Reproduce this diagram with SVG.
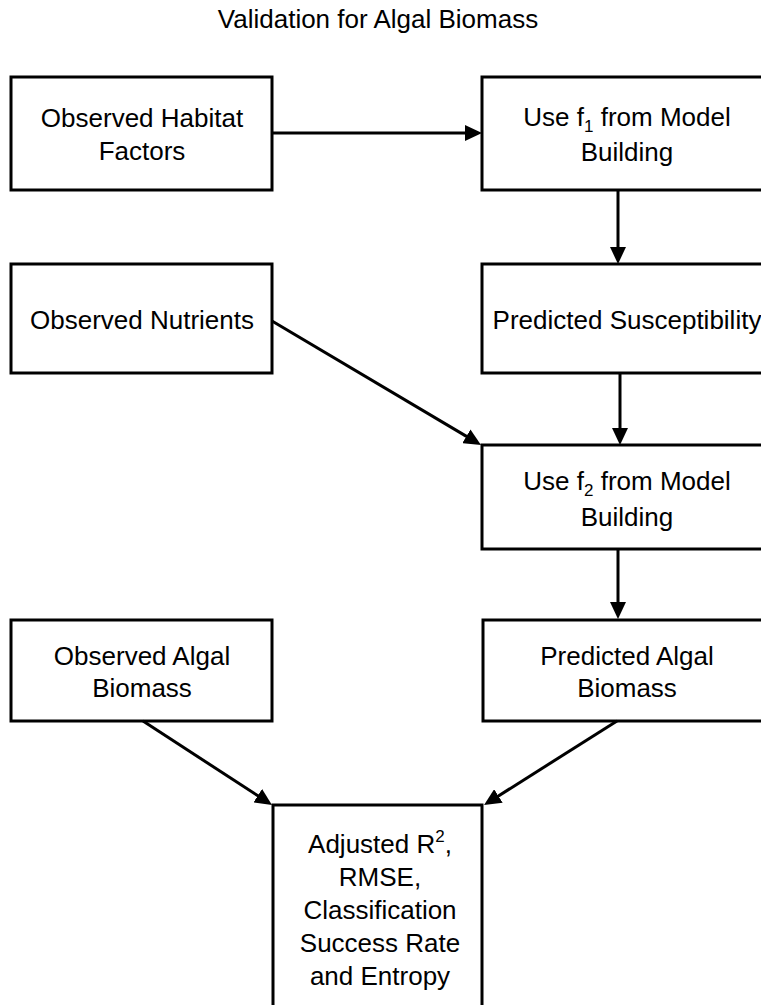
<svg xmlns="http://www.w3.org/2000/svg" width="761" height="1005" viewBox="0 0 761 1005">
<style>
  .box { fill: #ffffff; stroke: #000000; stroke-width: 3; }
  .lbl { font-family: "Liberation Sans", Arial, sans-serif; font-size: 26px; fill: #000000; text-anchor: middle; }
  .sub { font-size: 17px; }
  .edge { stroke: #000000; stroke-width: 3; fill: none; marker-end: url(#arrow); }
</style>
<defs>
  <marker id="arrow" viewBox="0 0 17 16" refX="7" refY="8" markerWidth="17" markerHeight="16" markerUnits="userSpaceOnUse" orient="auto">
    <path d="M0,0 L17,8 L0,16 Z" fill="#000000"/>
  </marker>
</defs>
<rect width="761" height="1005" fill="#ffffff"/>
<text id="title" class="lbl" x="378" y="28">Validation for Algal Biomass</text>

<g id="observed-habitat">
  <rect class="box" x="11" y="77" width="261" height="113"/>
  <text class="lbl" x="142" y="127">Observed Habitat</text>
  <text class="lbl" x="142" y="160">Factors</text>
</g>
<g id="use-f1">
  <rect class="box" x="482" y="77" width="290" height="113"/>
  <text class="lbl" x="627" y="126">Use f<tspan class="sub" dy="6">1</tspan><tspan dy="-6"> from Model</tspan></text>
  <text class="lbl" x="627" y="161">Building</text>
</g>
<g id="observed-nutrients">
  <rect class="box" x="11" y="264" width="261" height="109"/>
  <text class="lbl" x="142" y="329">Observed Nutrients</text>
</g>
<g id="predicted-susceptibility">
  <rect class="box" x="482" y="264" width="290" height="109"/>
  <text class="lbl" x="627" y="329">Predicted Susceptibility</text>
</g>
<g id="use-f2">
  <rect class="box" x="482" y="445" width="290" height="104"/>
  <text class="lbl" x="627" y="490">Use f<tspan class="sub" dy="6">2</tspan><tspan dy="-6"> from Model</tspan></text>
  <text class="lbl" x="627" y="526">Building</text>
</g>
<g id="observed-algal">
  <rect class="box" x="11" y="620" width="261" height="101"/>
  <text class="lbl" x="142" y="665">Observed Algal</text>
  <text class="lbl" x="142" y="697">Biomass</text>
</g>
<g id="predicted-algal">
  <rect class="box" x="483" y="620" width="290" height="101"/>
  <text class="lbl" x="627" y="665">Predicted Algal</text>
  <text class="lbl" x="627" y="697">Biomass</text>
</g>
<g id="metrics">
  <rect class="box" x="273" y="805" width="209" height="215"/>
  <text class="lbl" x="380" y="853">Adjusted R<tspan class="sub" dy="-11">2</tspan><tspan dy="11">,</tspan></text>
  <text class="lbl" x="380" y="886">RMSE,</text>
  <text class="lbl" x="380" y="919">Classification</text>
  <text class="lbl" x="380" y="952">Success Rate</text>
  <text class="lbl" x="380" y="985">and Entropy</text>
</g>

<g id="connectors">
  <line class="edge" x1="272" y1="133" x2="472" y2="133"/>
  <line class="edge" x1="618" y1="190" x2="618" y2="254"/>
  <line class="edge" x1="620" y1="373" x2="620" y2="435"/>
  <line class="edge" x1="272" y1="321" x2="472.4" y2="439.9"/>
  <line class="edge" x1="618" y1="549" x2="618" y2="609"/>
  <line class="edge" x1="143" y1="721" x2="263.6" y2="799.5"/>
  <line class="edge" x1="617" y1="721" x2="492.5" y2="799.7"/>
</g>
</svg>
